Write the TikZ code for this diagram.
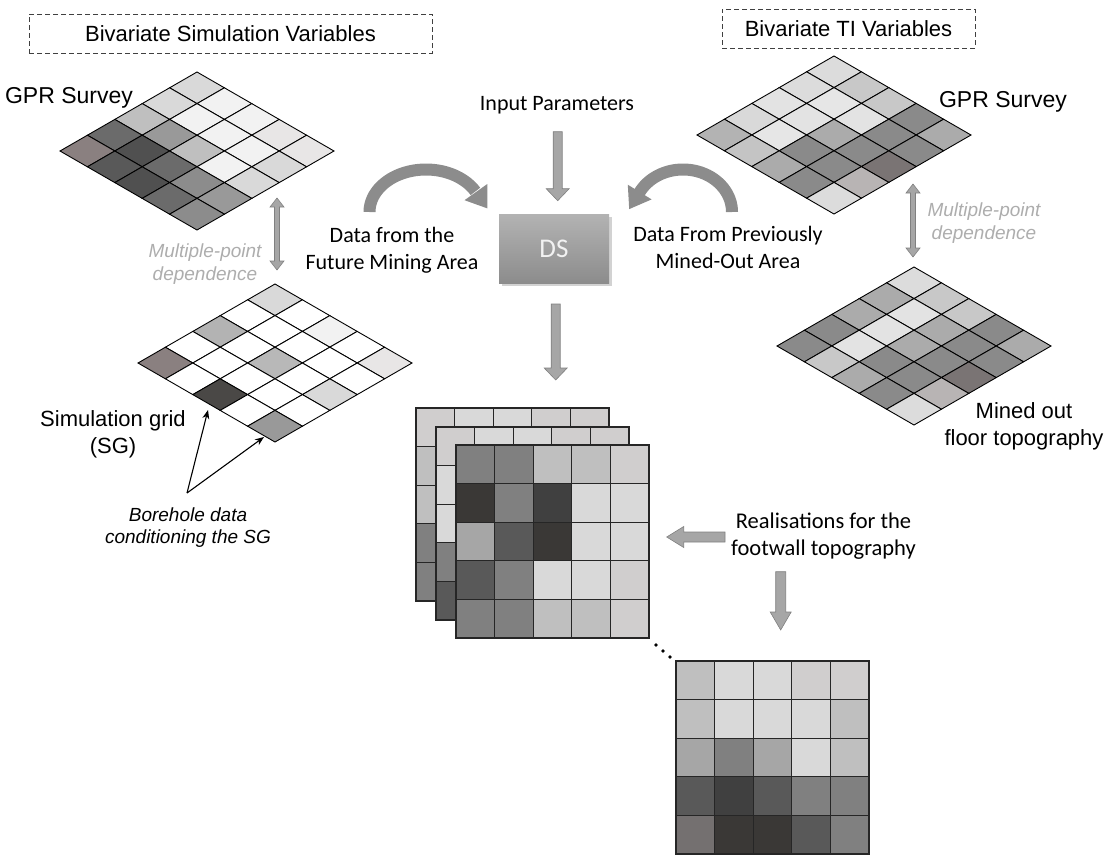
\documentclass[tikz,border=0pt]{standalone}
\usepackage{fontspec}
\setmainfont{Liberation Sans}
\newfontfamily\calib{Carlito}
\usetikzlibrary{calc,arrows.meta}
\definecolor{cF2}{HTML}{F2F2F2}
\definecolor{cE8}{HTML}{E8E6E6}
\definecolor{cE6}{HTML}{E6E6E6}
\definecolor{cE3}{HTML}{E3E3E3}
\definecolor{cDC}{HTML}{DCDCDC}
\definecolor{cD9}{HTML}{D9D9D9}
\definecolor{cCE}{HTML}{D0CECE}
\definecolor{cC8}{HTML}{C8C8C8}
\definecolor{cC4}{HTML}{C4C4C4}
\definecolor{cBF}{HTML}{BFBFBF}
\definecolor{cB8}{HTML}{B8B8B8}
\definecolor{cB4}{HTML}{B8B4B4}
\definecolor{cB3}{HTML}{B3B3B3}
\definecolor{cAB}{HTML}{ABABAB}
\definecolor{cA6}{HTML}{A6A6A6}
\definecolor{c99}{HTML}{999999}
\definecolor{c8C}{HTML}{8C8C8C}
\definecolor{c8A}{HTML}{8A8A8A}
\definecolor{c88}{HTML}{8A8080}
\definecolor{c80}{HTML}{808080}
\definecolor{c7A}{HTML}{7A7474}
\definecolor{c74}{HTML}{747070}
\definecolor{c6B}{HTML}{6B6B6B}
\definecolor{c59}{HTML}{595959}
\definecolor{c50}{HTML}{505050}
\definecolor{c4A}{HTML}{4A4846}
\definecolor{c40}{HTML}{404040}
\definecolor{c3A}{HTML}{3A3836}
\definecolor{mpgray}{HTML}{ADADAD}
\newcommand\isogrid[3]{%
  \foreach \cc [count=\k from 0] in {#3} {
    \pgfmathtruncatemacro\ii{mod(\k,5)}
    \pgfmathtruncatemacro\jj{int(\k/5)}
    \filldraw[fill=\cc, draw=black, line width=0.9]
      ({#1+27.4*(\ii-\jj)},{#2+15.8*(\ii+\jj)}) -- ++(27.4,15.8) -- ++(-27.4,15.8) -- ++(-27.4,-15.8) -- cycle;
  }}
\newcommand\sqgrid[3]{%
  \foreach \cc [count=\k from 0] in {#3} {
    \pgfmathtruncatemacro\ii{mod(\k,5)}
    \pgfmathtruncatemacro\jj{int(\k/5)}
    \filldraw[fill=\cc, draw=black!85, line width=1.3]
      ({#1+38.6*\ii},{#2+38.6*\jj}) rectangle ++(38.6,38.6);
  }}
% #1,#2 tail; #3 angle; #4 length; #5 head length; #6 shaft half width; #7 head half width
\newcommand\blockarrow[7]{%
  \begin{scope}[shift={(#1,#2)}, rotate=#3]
    \filldraw[barrow] (0,-#6) -- ({#4-#5},-#6) -- ({#4-#5},-#7) -- (#4,0) -- ({#4-#5},#7) -- ({#4-#5},#6) -- (0,#6) -- cycle;
  \end{scope}}
\newcommand\dblarrow[3]{%
  \filldraw[barrow] (#1,#2) -- ({#1+7},{#2+9}) -- ({#1+2.5},{#2+9}) -- ({#1+2.5},{#3-9}) -- ({#1+7},{#3-9}) -- (#1,#3)
    -- ({#1-7},{#3-9}) -- ({#1-2.5},{#3-9}) -- ({#1-2.5},{#2+9}) -- ({#1-7},{#2+9}) -- cycle;}
\tikzset{
  lbl/.style={font=\fontsize{22}{27}\selectfont, align=center, inner sep=0pt},
  clbl/.style={font=\calib\fontsize{22}{27}\selectfont, align=center, inner sep=0pt},
  mplbl/.style={font=\itshape\fontsize{19}{23}\selectfont, text=mpgray, align=center, inner sep=0pt},
  blbl/.style={font=\itshape\fontsize{19}{22}\selectfont, align=center, inner sep=0pt},
  titlebox/.style={draw=black!75, dash pattern=on 5pt off 3pt, line width=0.8pt, font=\fontsize{22}{27}\selectfont, inner sep=0pt, minimum height=39pt},
  barrow/.style={fill=cA6, draw=c80, line width=0.6pt},
  carrow/.style={draw=c8C, line width=12pt},
  chead/.style={fill=c8C},
  dsbox/.style={minimum width=110pt, minimum height=69pt, top color=cB3, bottom color=c8C, text=cF2, font=\calib\fontsize{27}{30}\selectfont, inner sep=0pt},
  bore/.style={-{Stealth[length=9pt,width=7pt]}, line width=1.1pt, black}
}
\begin{document}
\begin{tikzpicture}[x=1pt,y=-1pt]
\useasboundingbox (0,0) rectangle (1109,855);
% titles
\node[titlebox, minimum width=403pt] (titleL) at (230.5,33.5) {Bivariate Simulation Variables};
\node[titlebox, minimum width=253pt] (titleR) at (848.5,28.5) {Bivariate TI Variables};
% iso grids
\isogrid{197}{72}{cD9,cF2,cF2,cE8,cE8, cD9,cF2,cF2,cF2,cD9, cBF,c99,cBF,cF2,cD9, c6B,c50,c6B,c8C,c99, c88,c59,c50,c6B,c8C}
\isogrid{834}{56}{cDC,cC8,cC8,c8A,cAB, cDC,cE6,cE3,c8A,c8A, cE3,cE3,cAB,c8A,c7A, cD9,cE6,c8A,c8A,cB4, cB3,cC4,cAB,c8A,cDC}
\isogrid{275}{284}{cD9,white,cF2,white,cE8, white,white,white,white,white, cB3,white,cB8,white,cD9, white,white,white,white,white, c88,white,c4A,white,c99}
\isogrid{914}{267}{cDC,cC8,cC8,c8A,cAB, cAB,cE3,cAB,c8A,c8A, cAB,cE3,cAB,c8A,c7A, c8A,cE3,c8A,c8A,cB4, c8A,cC8,cAB,c8A,cDC}
% labels
\node[lbl, font=\fontsize{23}{27}\selectfont] (gprL) at (69,98) {GPR Survey};
\node[lbl, font=\fontsize{23}{27}\selectfont] (gprR) at (1003,102) {GPR Survey};
\node[mplbl] (mpL) at (205,264) {Multiple-point\\dependence};
\node[mplbl] (mpR) at (984,223) {Multiple-point\\dependence};
\node[lbl] (sg) at (113,434.5) {Simulation grid\\(SG)};
\node[blbl] (bh) at (188,528) {Borehole data\\conditioning the SG};
\node[lbl] (mined) at (1024,426.5) {Mined out\\floor topography};
\node[clbl] (inp) at (557,105) {Input Parameters};
\node[clbl] (dfut) at (392,250.5) {Data from the\\Future Mining Area};
\node[clbl] (dprev) at (728,247.5) {Data From Previously\\Mined-Out Area};
\node[clbl, font=\calib\fontsize{22.5}{27}\selectfont] (real) at (823.5,536.5) {Realisations for the\\footwall topography};
% DS
\fill[black!35, opacity=0.5] (501.5,217) rectangle (611.5,286);
\node[dsbox] (ds) at (554,248.5) {DS};
% straight block arrows
\blockarrow{557.7}{131.7}{-90}{69}{12}{4.5}{11.5}
\blockarrow{555.7}{304}{-90}{76}{12}{4.5}{11.5}
\blockarrow{725}{537}{180}{58.3}{17}{5}{10.5}
\blockarrow{780.7}{571.7}{-90}{58.3}{18}{5}{10.5}
% double arrows
\dblarrow{277}{198}{270}
\dblarrow{913}{184}{257}
% curved arrows
\draw[carrow] plot[domain=180:29, samples=60] ({426+56.5*cos(\x)},{212-42.5*sin(\x)});
\fill[chead] (487.3,184.0) -- (487.4,208.4) -- (464.5,200.2) -- cycle;
\draw[carrow] plot[domain=0:153, samples=60] ({683+49*cos(\x)},{212-42.5*sin(\x)});
\fill[chead] (651.6,199.4) -- (629.2,209.1) -- (627.8,184.7) -- cycle;
% borehole arrows
\coordinate (bo) at (187,493);
\coordinate (bt1) at (208,410);
\coordinate (bt2) at (264,437);
\draw[bore] (bo) -- (bt1);
\draw[bore] (bo) -- (bt2);
% stacked realisations
\sqgrid{416}{408}{cCE,cD9,cD9,cCE,cCE, cBF,cD9,cD9,cD9,cD9, cBF,cD9,cD9,cD9,cD9, c80,cD9,cD9,cD9,cD9, c80,cD9,cD9,cD9,cD9}
\sqgrid{436}{427}{cCE,cD9,cD9,cCE,cCE, cD9,cD9,cD9,cD9,cD9, cD9,cD9,cD9,cD9,cD9, c80,cD9,cD9,cD9,cD9, c59,cD9,cD9,cD9,cD9}
\sqgrid{456}{445}{c80,c80,cBF,cBF,cCE, c3A,c80,c40,cD9,cD9, cA6,c59,c3A,cD9,cD9, c59,c80,cD9,cD9,cCE, c80,c80,cBF,cBF,cCE}
% dots
\fill (656,645) circle[radius=1.8pt];
\fill (663,651) circle[radius=1.8pt];
\fill (670,657) circle[radius=1.8pt];
% last realisation
\sqgrid{676}{661}{cBF,cD9,cD9,cCE,cCE, cBF,cD9,cD9,cD9,cBF, cA6,c80,cA6,cD9,cBF, c59,c40,c59,c80,c80, c74,c3A,c3A,c59,c80}
\end{tikzpicture}
\end{document}
